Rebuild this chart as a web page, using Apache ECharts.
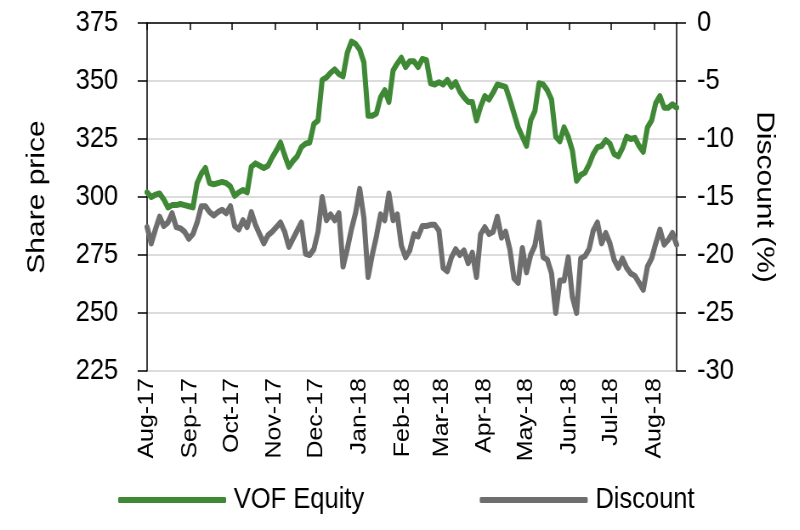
<!DOCTYPE html>
<html>
<head>
<meta charset="utf-8">
<script src="https://cdn.jsdelivr.net/npm/echarts@6/dist/echarts.min.js"></script>
<style>
  html, body { margin: 0; padding: 0; background: #ffffff; overflow: hidden; width: 800px; height: 530px; }
  /* The reference artwork is horizontally condensed; draw wider and condense to 800px */
  #chart { width: 941px; height: 530px; transform: scaleX(0.85); transform-origin: 0 0; }
</style>
</head>
<body>
<div id="chart"></div>
<script>
// Sampling: one reading every 3 calendar days starting 1 Aug 2017
const startDate = [2017, 7, 1];
const stepDays = 3;

// VOF Equity share price (left axis)
const equity = [
  302, 300, 301, 301.5, 299, 295.5, 296.5, 296.5, 297, 296.5,
  296, 295.5, 306, 310, 312.5, 306, 305.5, 306, 306.5, 306,
  304.5, 300.5, 302, 303, 302, 313, 314.5, 313.5, 312.5, 313.5,
  317, 320, 323.5, 318, 313, 315.5, 317.5, 321.5, 323, 323.5,
  331.5, 333, 350.5, 351.5, 353.5, 355, 353, 352, 362, 367,
  366, 363.5, 358, 335, 335, 336, 343, 346, 341, 354.5,
  357.5, 360, 356, 358.5, 358.5, 356, 359.5, 359, 349, 348.5,
  349.5, 348.5, 350.5, 347.5, 349.5, 345.5, 343, 341, 341, 333,
  339, 343.5, 342, 345, 348.5, 348, 347.5, 342, 336, 330,
  326, 322, 333, 337, 349, 348.5, 346, 342, 326, 324,
  330, 326, 320, 307, 309.5, 310.5, 314, 318.5, 321.5, 322,
  324.5, 323, 318.5, 317.5, 321, 326, 325, 325.5, 322, 319.5,
  330, 333, 340.5, 343.5, 338.5, 338.5, 340, 338.5
];

// Discount (%) (right axis)
const discount = [
  -17.6, -19.0, -17.8, -16.7, -17.5, -17.2, -16.4, -17.6, -17.7, -18.0,
  -18.6, -18.2, -17.2, -15.8, -15.8, -16.3, -16.6, -16.3, -16.1, -16.4,
  -15.8, -17.5, -17.8, -17.0, -17.6, -16.3, -17.4, -18.2, -19.0, -18.3,
  -18.0, -17.6, -17.2, -18.0, -19.3, -18.6, -17.9, -17.2, -19.9, -20.0,
  -19.5, -18.0, -15.0, -17.0, -16.5, -17.0, -16.4, -21.0, -19.5, -17.8,
  -16.4, -14.3, -16.8, -21.9, -20.0, -18.4, -16.5, -17.0, -14.7, -17.0,
  -16.5, -19.2, -20.2, -19.6, -18.2, -18.4, -17.5, -17.5, -17.4, -17.4,
  -17.9, -21.1, -21.4, -20.2, -19.5, -20.0, -19.6, -20.7, -19.8, -21.9,
  -18.2, -17.6, -18.2, -18.0, -16.7, -18.5, -18.0, -19.5, -22.0, -22.4,
  -19.4, -21.5, -20.0, -19.2, -17.2, -20.2, -20.4, -21.6, -25.0, -22.2,
  -22.2, -20.2, -23.6, -25.0, -20.3, -20.1, -19.5, -17.9, -17.2, -19.0,
  -18.1, -19.0, -20.4, -21.1, -20.3, -21.1, -21.6, -21.8, -22.4, -23.0,
  -21.0, -20.3, -19.0, -17.8, -19.1, -18.7, -18.1, -19.1
];

// Month tick marks / labels
const monthStarts = [
  [2017, 7, 1], [2017, 8, 1], [2017, 9, 1], [2017, 10, 1], [2017, 11, 1],
  [2018, 0, 1], [2018, 1, 1], [2018, 2, 1], [2018, 3, 1], [2018, 4, 1],
  [2018, 5, 1], [2018, 6, 1], [2018, 7, 1]
];
const monthLabels = [
  'Aug-17', 'Sep-17', 'Oct-17', 'Nov-17', 'Dec-17', 'Jan-18', 'Feb-18',
  'Mar-18', 'Apr-18', 'May-18', 'Jun-18', 'Jul-18', 'Aug-18'
];
const axisEnd = [2018, 7, 17];

const leftTicks = { min: 225, max: 375, interval: 25 };
const rightTicks = { min: -30, max: 0, interval: 5 };

const seriesNames = ['VOF Equity', 'Discount'];
const seriesColors = ['#3f8936', '#6e6e6e'];

// ---- build (x = days since start date) ----
const DAY = 86400000;
const t0 = Date.UTC(startDate[0], startDate[1], startDate[2]);
const dayOf = (a) => Math.round((Date.UTC(a[0], a[1], a[2]) - t0) / DAY);
const xDays = equity.map((_, i) => i * stepDays);
const monthDays = monthStarts.map(dayOf);
const endDay = dayOf(axisEnd);

const font = "'Liberation Sans', Arial, sans-serif";

const chart = echarts.init(document.getElementById('chart'), null, { renderer: 'canvas' });

const labelFor = (v) => {
  const k = monthDays.indexOf(Math.round(v));
  return k >= 0 ? monthLabels[k] : '';
};

chart.setOption({
  animation: false,
  backgroundColor: '#ffffff',
  grid: { left: 173, right: 145, top: 23, bottom: 159 },
  legend: {
    data: seriesNames,
    left: 139,
    top: 485,
    padding: 0,
    icon: 'roundRect',
    itemWidth: 127,
    itemHeight: 6,
    itemGap: 136,
    textStyle: { fontFamily: font, fontSize: 30, color: '#000000', padding: [0, 0, 0, 4] }
  },
  xAxis: {
    type: 'value',
    min: 0,
    max: endDay,
    axisLine: { show: true, lineStyle: { color: '#000000', width: 1.5 } },
    axisTick: { show: true, length: 7, lineStyle: { color: '#000000', width: 1.5 }, customValues: monthDays },
    axisLabel: {
      customValues: monthDays,
      rotate: 90,
      margin: 7,
      fontFamily: font,
      fontSize: 25,
      color: '#000000',
      formatter: (v) => labelFor(v),
      hideOverlap: false
    },
    splitLine: { show: false }
  },
  yAxis: [
    {
      type: 'value',
      min: leftTicks.min, max: leftTicks.max, interval: leftTicks.interval,
      name: 'Share price',
      nameLocation: 'middle',
      nameRotate: 90,
      nameGap: 114,
      nameTextStyle: { fontFamily: font, fontSize: 30, color: '#000000' },
      axisLine: { show: true, lineStyle: { color: '#000000', width: 1.5 } },
      axisTick: { show: true, length: 11, lineStyle: { color: '#000000', width: 1.5 } },
      axisLabel: { margin: 34, fontFamily: font, fontSize: 30, color: '#000000' },
      splitLine: { show: true, lineStyle: { color: '#d0d0d0', width: 1.5 } }
    },
    {
      type: 'value',
      position: 'right',
      min: rightTicks.min, max: rightTicks.max, interval: rightTicks.interval,
      name: 'Discount (%)',
      nameLocation: 'middle',
      nameRotate: -90,
      nameGap: 88,
      nameTextStyle: { fontFamily: font, fontSize: 30, color: '#000000' },
      axisLine: { show: true, lineStyle: { color: '#000000', width: 1.5 } },
      axisTick: { show: true, length: 11, lineStyle: { color: '#000000', width: 1.5 } },
      axisLabel: { margin: 24, fontFamily: font, fontSize: 30, color: '#000000' },
      splitLine: { show: false }
    }
  ],
  series: [
    {
      name: seriesNames[0],
      type: 'line',
      yAxisIndex: 0,
      data: xDays.map((d, i) => [d, equity[i]]),
      symbol: 'none',
      color: seriesColors[0],
      lineStyle: { width: 6, color: seriesColors[0], cap: 'round', join: 'round' },
      z: 3
    },
    {
      name: seriesNames[1],
      type: 'line',
      yAxisIndex: 1,
      data: xDays.map((d, i) => [d, discount[i]]),
      symbol: 'none',
      color: seriesColors[1],
      lineStyle: { width: 6, color: seriesColors[1], cap: 'round', join: 'round' },
      z: 2
    }
  ]
});
</script>
</body>
</html>
